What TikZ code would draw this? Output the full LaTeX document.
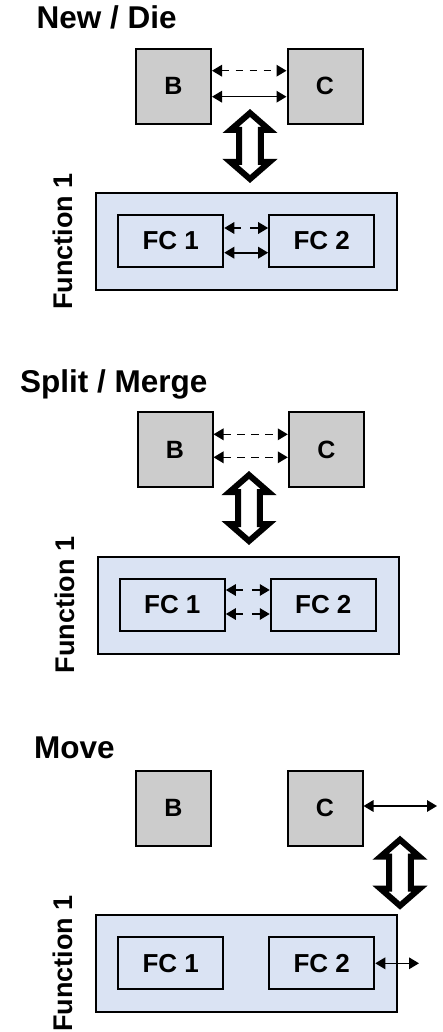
\documentclass[tikz,border=0pt]{standalone}
\usepackage{fontspec}
\setmainfont{Liberation Sans}
\usetikzlibrary{arrows.meta}
\definecolor{boxgray}{HTML}{CCCCCC}
\definecolor{fnblue}{HTML}{DAE3F3}
\tikzset{
  title/.style={anchor=base west, inner sep=0pt, font=\fontsize{31.5}{36}\selectfont\bfseries},
  bcbox/.style={draw, line width=2pt, fill=boxgray, minimum width=75pt, minimum height=75pt, inner sep=0pt, font=\fontsize{25}{29}\selectfont\bfseries},
  fnbox/.style={draw, line width=2.1pt, fill=fnblue, minimum width=301pt, minimum height=97pt, inner sep=0pt},
  fcbox/.style={draw, line width=2.1pt, fill=fnblue, minimum width=105pt, minimum height=52pt, inner sep=0pt, font=\fontsize{26}{30}\selectfont\bfseries},
  fnlabel/.style={rotate=90, anchor=base, inner sep=0pt, font=\fontsize{27}{31}\selectfont\bfseries},
  link/.style={line width=1.6pt, {Triangle[length=10pt,width=11.5pt]}-{Triangle[length=10pt,width=11.5pt]}},
  bcdash/.style={link, dash pattern=on 7.5pt off 6.5pt},
  fcdash/.style={link, dash pattern=on 7.5pt off 9pt on 12pt off 2pt},
  hollow/.style={draw, line width=6pt, fill=white},
  updown/.pic={\draw[hollow] (0,-33) -- (19.5,-16) -- (10.8,-16) -- (10.8,16) -- (19.5,16) -- (0,33) -- (-19.5,16) -- (-10.8,16) -- (-10.8,-16) -- (-19.5,-16) -- cycle;}
}
\begin{document}
\begin{tikzpicture}[x=1pt,y=-1pt]
\useasboundingbox (0,0) rectangle (443,1032);
% ---------- Panel 1: New / Die
\node[title] (t1) at (36.5,28.3) {New / Die};
\node[bcbox] (b1) at (173.5,86.3) {B};
\node[bcbox] (c1) at (325,86.3) {C};
\draw[bcdash] ([yshift=15.6pt]b1.east) -- ([yshift=15.6pt]c1.west);
\draw[link] ([yshift=-10.4pt]b1.east) -- ([yshift=-10.4pt]c1.west);
\pic at (250,146) {updown};
\node[fnbox] (f1) at (246.5,241.5) {};
\node[fcbox] (fa1) at (170.7,241) {FC 1};
\node[fcbox] (fb1) at (321.7,241) {FC 2};
\draw[fcdash] ([yshift=13pt]fa1.east) -- ([yshift=13pt]fb1.west);
\draw[link] ([yshift=-11.7pt]fa1.east) -- ([yshift=-11.7pt]fb1.west);
\node[fnlabel] (l1) at (72,241.5) {Function 1};
% ---------- Panel 2: Split / Merge
\node[title] (t2) at (20,392.7) {Split / Merge};
\node[bcbox] (b2) at (175,449.7) {B};
\node[bcbox] (c2) at (326.3,449.7) {C};
\draw[bcdash] ([yshift=15.4pt]b2.east) -- ([yshift=15.4pt]c2.west);
\draw[bcdash] ([yshift=-7.6pt]b2.east) -- ([yshift=-7.6pt]c2.west);
\pic at (249,508) {updown};
\node[fnbox] (f2) at (248.3,605.2) {};
\node[fcbox] (fa2) at (172.3,605) {FC 1};
\node[fcbox] (fb2) at (323.3,605) {FC 2};
\draw[fcdash] ([yshift=15pt]fa2.east) -- ([yshift=15pt]fb2.west);
\draw[fcdash] ([yshift=-9pt]fa2.east) -- ([yshift=-9pt]fb2.west);
\node[fnlabel] (l2) at (74,605.2) {Function 1};
% ---------- Panel 3: Move
\node[title] (t3) at (34,758) {Move};
\node[bcbox] (b3) at (173.5,808.3) {B};
\node[bcbox] (c3) at (325,808.3) {C};
\coordinate (ce) at (437,806);
\draw[link] ([yshift=2.3pt]c3.east) -- (ce);
\pic at (400,872.7) {updown};
\node[fnbox] (f3) at (246.5,963.7) {};
\node[fcbox] (fa3) at (170.7,963.3) {FC 1};
\node[fcbox] (fb3) at (321.7,963.3) {FC 2};
\coordinate (fe) at (419,963.3);
\draw[link] (fb3.east) -- (fe);
\node[fnlabel] (l3) at (72,963.7) {Function 1};
\end{tikzpicture}
\end{document}
